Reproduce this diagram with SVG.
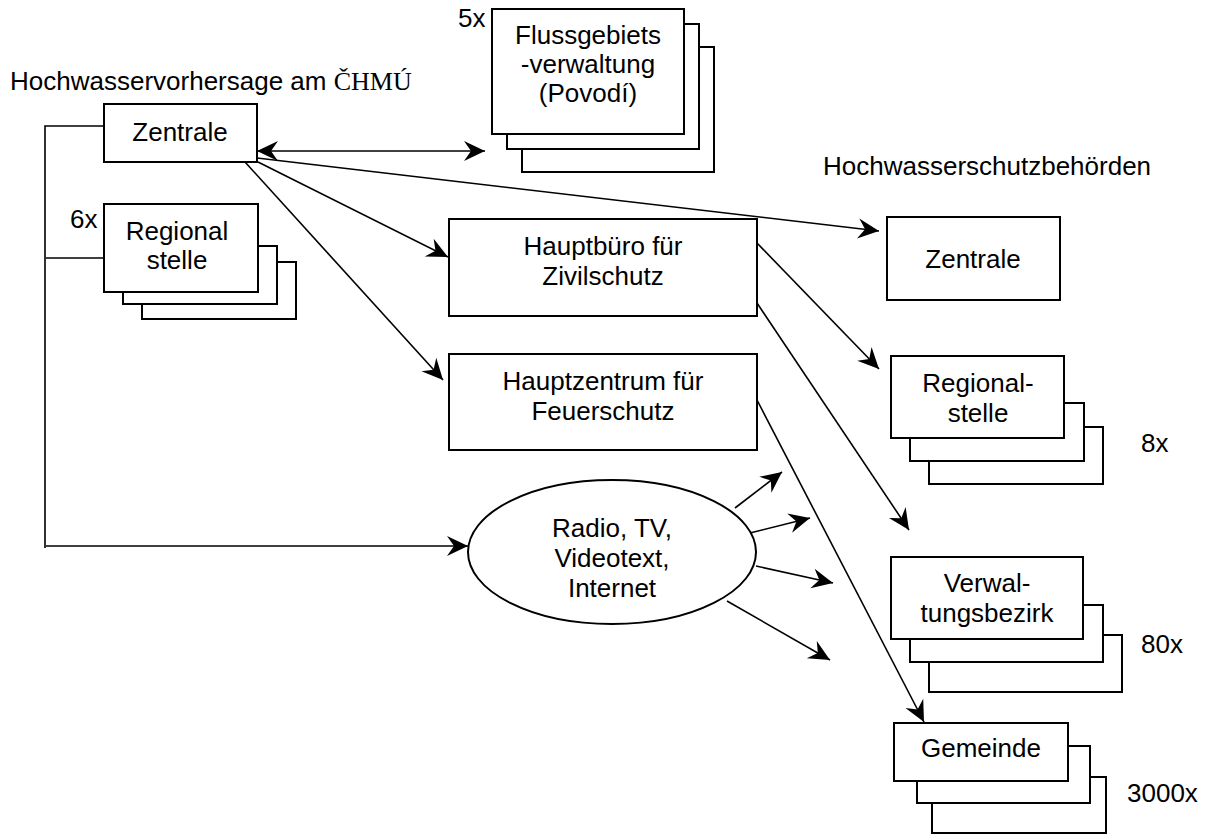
<svg xmlns="http://www.w3.org/2000/svg" width="1210" height="834" viewBox="0 0 1210 834">
  <style>
    text { font-family: "Liberation Sans", Arial, sans-serif; font-size: 26px; fill: #000; }
    .c { text-anchor: middle; }
    .serif { font-family: "Liberation Serif", "Times New Roman", serif; }
    .box { fill: #fff; stroke: #000; stroke-width: 2; }
    .ln { fill: none; stroke: #000; stroke-width: 1.6; }
    .arr { marker-end: url(#head); }
  </style>
  <defs>
    <marker id="head" markerUnits="userSpaceOnUse" markerWidth="24" markerHeight="24" viewBox="-22 -11 24 22" refX="0" refY="0" orient="auto-start-reverse">
      <path d="M0,0 L-21,-10 L-14,0 L-21,10 Z" fill="#000"/>
    </marker>
  </defs>

  <rect width="1210" height="834" fill="#fff"/>

  <!-- headings -->
  <text x="10" y="90">Hochwasservorhersage am <tspan class="serif">ČHMÚ</tspan></text>
  <text x="823" y="175">Hochwasserschutzbehörden</text>

  <!-- connectors -->
  <g id="connectors">
    <path class="ln" d="M104,126 H45 V548"/>
    <path class="ln" d="M46,258 H104"/>
    <path class="ln arr" d="M46,546 H468"/>
    <path class="ln" d="M257,151 H485" marker-start="url(#head)" marker-end="url(#head)"/>
    <path class="ln arr" d="M257,158 L879,231"/>
    <path class="ln arr" d="M258,162 L448,257"/>
    <path class="ln arr" d="M245,162 L443,380"/>
    <path class="ln arr" d="M757,243 L879,369"/>
    <path class="ln arr" d="M757,303 L909,530"/>
    <path class="ln arr" d="M757,400 L924,722"/>
    <path class="ln arr" d="M735,508 L782,472"/>
    <path class="ln arr" d="M750,533 L810,518"/>
    <path class="ln arr" d="M756,566 L833,583"/>
    <path class="ln arr" d="M727,601 L830,660"/>
  </g>

  <!-- left side: forecasting service -->
  <g id="zentrale-chmu">
    <rect class="box" x="104" y="104" width="153" height="58"/>
    <text class="c" x="180" y="141">Zentrale</text>
  </g>

  <g id="regionalstelle-chmu">
    <text x="70" y="228">6x</text>
    <rect class="box" x="142" y="262" width="154" height="57"/>
    <rect class="box" x="123" y="246" width="154" height="58"/>
    <rect class="box" x="104" y="204" width="154" height="88"/>
    <text class="c" x="177" y="240">Regional</text>
    <text class="c" x="177" y="269">stelle</text>
  </g>

  <g id="povodi">
    <text x="458" y="27">5x</text>
    <rect class="box" x="522" y="47" width="192" height="125"/>
    <rect class="box" x="507" y="24" width="192" height="125"/>
    <rect class="box" x="492" y="9" width="192" height="125"/>
    <text class="c" x="588" y="44">Flussgebiets</text>
    <text class="c" x="588" y="73">-verwaltung</text>
    <text class="c" x="588" y="102">(Povodí)</text>
  </g>

  <!-- middle -->
  <g id="hauptbuero">
    <rect class="box" x="449" y="219" width="308" height="97"/>
    <text class="c" x="603" y="255">Hauptbüro für</text>
    <text class="c" x="603" y="285">Zivilschutz</text>
  </g>

  <g id="hauptzentrum">
    <rect class="box" x="449" y="354" width="308" height="96"/>
    <text class="c" x="603" y="390">Hauptzentrum für</text>
    <text class="c" x="603" y="420">Feuerschutz</text>
  </g>

  <g id="medien">
    <ellipse class="box" cx="612" cy="552" rx="144" ry="72" stroke-width="1.6"/>
    <text class="c" x="612" y="537">Radio, TV,</text>
    <text class="c" x="612" y="567">Videotext,</text>
    <text class="c" x="612" y="597">Internet</text>
  </g>

  <!-- right side: flood protection authorities -->
  <g id="zentrale-hsb">
    <rect class="box" x="887" y="217" width="173" height="83"/>
    <text class="c" x="973" y="268">Zentrale</text>
  </g>

  <g id="regionalstelle-hsb">
    <rect class="box" x="929" y="427" width="174" height="57"/>
    <rect class="box" x="910" y="403" width="174" height="58"/>
    <rect class="box" x="891" y="356" width="173" height="82"/>
    <text class="c" x="978" y="392">Regional-</text>
    <text class="c" x="978" y="422">stelle</text>
    <text x="1141" y="452">8x</text>
  </g>

  <g id="verwaltungsbezirk">
    <rect class="box" x="929" y="635" width="193" height="57"/>
    <rect class="box" x="910" y="605" width="193" height="57"/>
    <rect class="box" x="891" y="557" width="192" height="82"/>
    <text class="c" x="987" y="592">Verwal-</text>
    <text class="c" x="987" y="622">tungsbezirk</text>
    <text x="1141" y="653">80x</text>
  </g>

  <g id="gemeinde">
    <rect class="box" x="932" y="777" width="174" height="56"/>
    <rect class="box" x="917" y="746" width="173" height="57"/>
    <rect class="box" x="894" y="723" width="174" height="58"/>
    <text class="c" x="981" y="757">Gemeinde</text>
    <text x="1127" y="802">3000x</text>
  </g>
</svg>
